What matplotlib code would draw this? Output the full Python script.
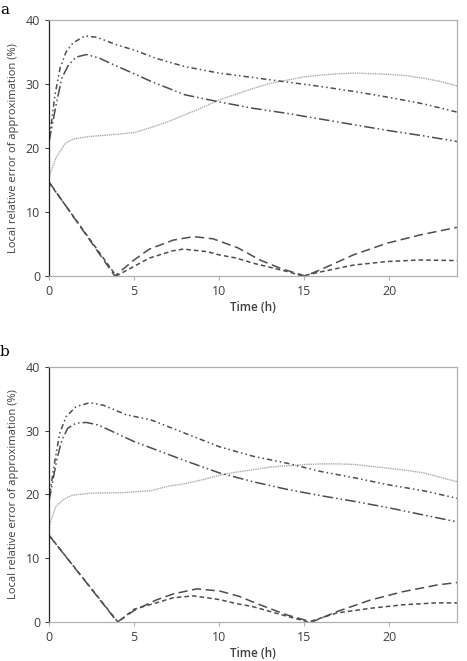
import matplotlib
matplotlib.use("Agg")
import matplotlib.pyplot as plt

plt.rcParams['font.family'] = ['Open Sans', 'DejaVu Sans']

# ---- panel a ----
a_t_upper = [0, 0.35, 0.65, 1.0, 1.4, 2.1, 2.8, 4, 5, 6.3, 8, 10, 12, 14, 16, 18, 20, 22, 24]
a_upper = [21, 28.3, 32.5, 35.0, 36.4, 37.5, 37.3, 36.1, 35.3, 34.0, 32.7, 31.7, 31.0, 30.3, 29.6, 28.8, 27.9, 26.9, 25.6]
a_t_lower = [0, 0.45, 0.75, 1.15, 1.6, 2.2, 2.9, 3.8, 5, 6, 8, 10, 12, 14, 16, 18, 20, 22, 24]
a_lower = [21, 27.2, 30.9, 33.0, 34.2, 34.6, 34.1, 33.0, 31.6, 30.4, 28.3, 27.2, 26.2, 25.4, 24.5, 23.6, 22.7, 21.9, 21.0]
a_t_dot = [0, 0.4, 0.94, 1.43, 2.4, 3.4, 5, 6, 7, 8, 9, 10, 11, 12, 13, 14, 15, 16, 17, 18, 19, 20, 21, 22, 23, 24]
a_dot = [15.5, 18.4, 20.7, 21.4, 21.8, 22.0, 22.4, 23.2, 24.1, 25.2, 26.3, 27.5, 28.4, 29.3, 30.1, 30.6, 31.1, 31.4, 31.6, 31.7, 31.6, 31.5, 31.3, 30.9, 30.4, 29.7]
a_t_long = [0, 3.87, 5.0, 5.9, 7.3, 8.5, 9.65, 11.1, 12.4, 13.6, 15.05, 15.9, 17.9, 19.85, 21.8, 24]
a_long = [14.7, 0, 2.5, 4.2, 5.6, 6.15, 5.8, 4.4, 2.5, 1.2, 0, 0.9, 3.3, 5.1, 6.4, 7.6]
a_t_short = [0, 3.95, 5.0, 5.9, 7.3, 7.9, 9.3, 10, 11, 12, 14, 14.9, 15.9, 17.9, 19.85, 21.8, 24]
a_short = [14.6, 0, 1.5, 2.8, 3.95, 4.2, 3.8, 3.3, 2.8, 2.0, 0.7, 0, 0.6, 1.7, 2.25, 2.5, 2.4]

# ---- panel b ----
b_t_upper = [0, 0.35, 0.63, 1.0, 1.6, 2.4, 3.2, 4.55, 6, 8, 10, 12, 14, 16, 18, 20, 22, 24]
b_upper = [19.4, 25.4, 29.6, 32.2, 33.8, 34.4, 34.0, 32.5, 31.7, 29.6, 27.5, 26.0, 24.9, 23.6, 22.6, 21.5, 20.6, 19.4]
b_t_lower = [0, 0.45, 0.75, 1.1, 1.6, 2.2, 2.9, 4.2, 5, 6, 8, 10, 12, 14, 16, 18, 20, 22, 24]
b_lower = [19.0, 25.4, 28.5, 30.4, 31.2, 31.3, 30.9, 29.3, 28.3, 27.3, 25.3, 23.4, 22.0, 20.8, 19.8, 18.9, 17.9, 16.8, 15.7]
b_t_dot = [0, 0.4, 0.94, 1.4, 2.4, 4.4, 6, 7, 8, 9, 10, 11, 12, 13, 14, 15, 16, 17, 18, 19, 20, 21, 22, 23, 24]
b_dot = [15.0, 18.1, 19.4, 19.9, 20.2, 20.3, 20.6, 21.3, 21.7, 22.3, 23.0, 23.5, 23.9, 24.3, 24.5, 24.7, 24.8, 24.8, 24.7, 24.4, 24.1, 23.8, 23.4, 22.7, 22.0]
b_t_long = [0, 4.02, 5.0, 6.3, 7.3, 8.7, 10.05, 11.2, 12.4, 14.0, 15.45, 16.9, 18.9, 20.8, 22.8, 24]
b_long = [13.6, 0, 1.8, 3.45, 4.4, 5.2, 4.85, 4.0, 2.7, 1.1, 0, 1.6, 3.45, 4.75, 5.8, 6.2]
b_t_short = [0, 4.05, 5.0, 6.3, 7.3, 8.5, 10.05, 11, 12, 14, 15.25, 16.9, 18.9, 20.8, 22.8, 24]
b_short = [13.6, 0, 2.0, 3.0, 3.8, 4.1, 3.5, 2.9, 2.4, 0.9, 0, 1.4, 2.15, 2.7, 3.0, 3.0]

dark = '#4d4d4d'
light = '#ababab'

fig = plt.figure(figsize=(4.67, 6.61), dpi=100)
ax_a = fig.add_axes([0.105, 0.5825, 0.874, 0.3873])
ax_b = fig.add_axes([0.105, 0.059, 0.874, 0.3858])

panels = [
    (ax_a, a_t_upper, a_upper, a_t_lower, a_lower, a_t_dot, a_dot, a_t_long, a_long, a_t_short, a_short),
    (ax_b, b_t_upper, b_upper, b_t_lower, b_lower, b_t_dot, b_dot, b_t_long, b_long, b_t_short, b_short),
]

for ax, tu, yu, tl, yl, td, yd, tg, yg, ts, ys in panels:
    ax.plot(td, yd, color=light, lw=1.0, linestyle=(0, (1, 0.6)))
    ax.plot(tu, yu, color=dark, lw=1.1, dashes=(3.5, 2, 1, 2, 1, 2))
    ax.plot(tl, yl, color=dark, lw=1.1, dashes=(7, 2, 1, 2, 1, 2))
    ax.plot(tg, yg, color=dark, lw=1.1, dashes=(6, 3))
    ax.plot(ts, ys, color=dark, lw=1.1, dashes=(3, 2))

    ax.set_xlim(0, 24)
    ax.set_ylim(0, 40)
    ax.set_xticks([0, 5, 10, 15, 20])
    ax.set_yticks([0, 10, 20, 30, 40])
    for side in ['top', 'right', 'bottom']:
        ax.spines[side].set_color('#b0b0b0')
    ax.spines['left'].set_color('#222222')
    for sp in ax.spines.values():
        sp.set_linewidth(0.9)
    ax.tick_params(axis='both', labelsize=9, colors='#404040', length=3, width=0.8)
    ax.tick_params(axis='x', color='#b0b0b0')
    ax.set_xlabel('Time (h)', fontsize=8.5, color='#404040', labelpad=2, fontweight='semibold')
    ax.set_ylabel('Local relative error of approximation (%)', fontsize=8, color='#404040', labelpad=5)

fig.text(0.0, 0.985, 'a', fontsize=11, family='DejaVu Serif', va='center', ha='left')
fig.text(0.0, 0.467, 'b', fontsize=11, family='DejaVu Serif', va='center', ha='left')

fig.savefig('out.png', dpi=100)
